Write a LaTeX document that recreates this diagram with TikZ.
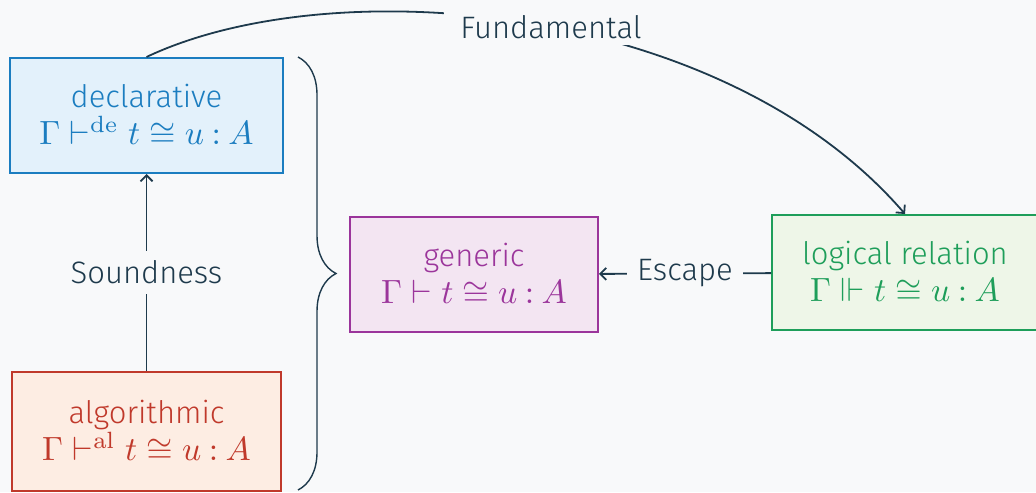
\documentclass[tikz,border=0pt]{standalone}
\usepackage{amssymb}
\usepackage{graphicx}
\usepackage[no-math]{fontspec}
\setmainfont{Fira Sans}[UprightFont={* Light}]
\usetikzlibrary{decorations.pathreplacing,arrows.meta}

\definecolor{bgcol}{HTML}{F8F9FA}
\definecolor{ink}{HTML}{1E3A4C}
\definecolor{declblue}{HTML}{1B7DC0}
\definecolor{declfill}{HTML}{E3F1FB}
\definecolor{algred}{HTML}{C0392B}
\definecolor{algfill}{HTML}{FDEDE3}
\definecolor{genpurple}{HTML}{9B359B}
\definecolor{genfill}{HTML}{F3E5F2}
\definecolor{logicgreen}{HTML}{1E9E5A}
\definecolor{logicfill}{HTML}{EEF6E8}

% judgement set at 10pt and blown up, as the reference math is heavy
\newcommand{\judgline}[1]{\scalebox{1.68}{\fontsize{10}{12}\selectfont$#1$}}

\begin{document}
\begin{tikzpicture}[x=0.5pt, y=-0.5pt, font=\fontsize{15.5}{18.5}\selectfont,
    >={Straight Barb[length=3pt,width=6pt]},
    judg/.style={draw, line width=1pt, align=center, minimum height=57.5pt, inner sep=0pt},
    lbl/.style={fill=bgcol, text=ink, inner sep=5pt},
    link/.style={draw=ink, line width=0.9pt}
    ]

    \fill[bgcol] (0,0) rectangle (1036,492);
    \useasboundingbox (0,0) rectangle (1036,492);

    \node[judg, draw=declblue, fill=declfill, text=declblue, minimum width=136.5pt] (decl) at (146.5,115.5)
        {declarative\\\judgline{\Gamma\vdash^{\mathrm{de}} t\cong u\mathbin{:}A}};
    \node[judg, draw=algred, fill=algfill, text=algred, minimum width=134.5pt, minimum height=59.5pt] (alg) at (146.5,431.5)
        {algorithmic\\\judgline{\Gamma\vdash^{\mathrm{al}} t\cong u\mathbin{:}A}};
    \node[judg, draw=genpurple, fill=genfill, text=genpurple, minimum width=124pt] (gen) at (474,274.5)
        {generic\\\judgline{\Gamma\vdash t\cong u\mathbin{:}A}};
    \node[judg, draw=logicgreen, fill=logicfill, text=logicgreen, minimum width=133pt] (logic) at (905,272.5)
        {logical relation\\\judgline{\Gamma\Vdash t\cong u\mathbin{:}A}};

    \draw[link, ->] (alg) -- node[lbl] (sound) {Soundness} (decl);
    \draw[link, ->] (logic) -- node[lbl] (escape) {Escape} (gen);
    \draw[link, ->] (decl.north) .. controls (330,-30) and (720,0) ..
        node[lbl, pos=0.53, inner xsep=8pt, inner ysep=3pt] (fund) {Fundamental} (logic.north);

    % brace grouping the two judgments
    \draw[link, line width=0.7pt, decorate, decoration={brace, amplitude=19pt}] (298,57) -- (298,490);
    %
\end{tikzpicture}
\end{document}
